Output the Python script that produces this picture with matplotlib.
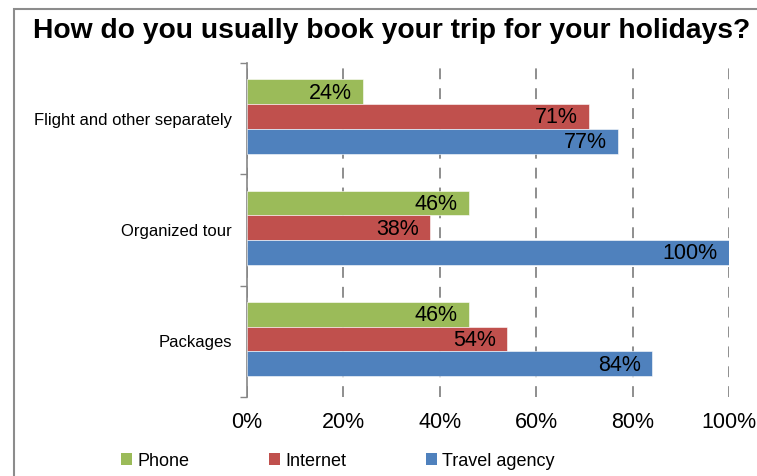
import matplotlib
matplotlib.use("Agg")
import matplotlib.pyplot as plt
from matplotlib.patches import Rectangle, Patch
from matplotlib.ticker import FixedLocator, PercentFormatter

plt.rcParams["font.family"] = ["Liberation Sans", "DejaVu Sans"]

title = "How do you usually book your trip for your holidays?"
categories = ["Packages", "Organized tour", "Flight and other separately"]
series_names = ["Phone", "Internet", "Travel agency"]
phone = [46, 46, 24]
internet = [54, 38, 71]
travel_agency = [84, 100, 77]
x_ticks = [0, 20, 40, 60, 80, 100]

colors = {"Phone": "#9BBB59", "Internet": "#C0504D", "Travel agency": "#4F81BD"}
values = {"Phone": phone, "Internet": internet, "Travel agency": travel_agency}
shift = 0.02
offsets = {"Phone": 0.222 + shift, "Internet": shift, "Travel agency": -0.222 + shift}
bar_h = 0.222

fig = plt.figure(figsize=(7.57, 4.76), dpi=100)
ax = fig.add_axes([247 / 757, 1 - 397 / 476, (729 - 247) / 757, (397 - 63) / 476])

for name in series_names:
    ys = [i + offsets[name] for i in range(len(categories))]
    bars = ax.barh(ys, values[name], height=bar_h, color=colors[name],
                   edgecolor="white", linewidth=0.4, zorder=3)
    for rect, v in zip(bars, values[name]):
        ax.annotate(f"{v}%", xy=(rect.get_width(), rect.get_y() + rect.get_height() / 2),
                    xytext=(-8, -1), textcoords="offset points",
                    ha="right", va="center", fontsize=15.5, color="black", zorder=4)

ax.set_xlim(0, 100)
ax.set_ylim(-0.5, len(categories) - 0.5)
ax.set_xticks(x_ticks)
ax.xaxis.set_major_formatter(PercentFormatter(decimals=0))
ax.tick_params(axis="x", length=0, pad=11, labelsize=15.5)

ax.yaxis.set_major_locator(FixedLocator([-0.5, 0.5, 1.5, 2.5]))
ax.yaxis.set_minor_locator(FixedLocator(list(range(len(categories)))))
ax.set_yticklabels([], minor=False)
ax.set_yticklabels(categories, minor=True)
ax.tick_params(axis="y", which="major", length=5, width=1, color="#868686")
ax.tick_params(axis="y", which="minor", length=0, pad=11, labelsize=12)

ax.xaxis.grid(True, linestyle=(0, (6, 5)), color="#868686", linewidth=1.3, zorder=1)
for s in ["top", "right", "bottom"]:
    ax.spines[s].set_visible(False)
ax.spines["left"].set_color("#868686")
ax.spines["left"].set_linewidth(1.2)

fig.text(392 / 757, 1 - 31 / 476, title, ha="center", va="center",
         fontsize=20.3, fontweight="bold")

handles = [Patch(facecolor=colors[n], edgecolor="none") for n in series_names]
fig.legend(handles, series_names, loc="center", bbox_to_anchor=(338 / 757, 1 - 461 / 476),
           ncol=3, frameon=False, fontsize=13, handlelength=0.6, handleheight=0.65,
           handletextpad=0.3, columnspacing=4.4, borderaxespad=0)

fig.patches.append(Rectangle((14 / 757, -0.1), 1.2, 1 - 8.5 / 476 + 0.1,
                             transform=fig.transFigure, fill=False,
                             edgecolor="#8c8c8c", linewidth=1.5))

fig.savefig("out.png", dpi=100)
